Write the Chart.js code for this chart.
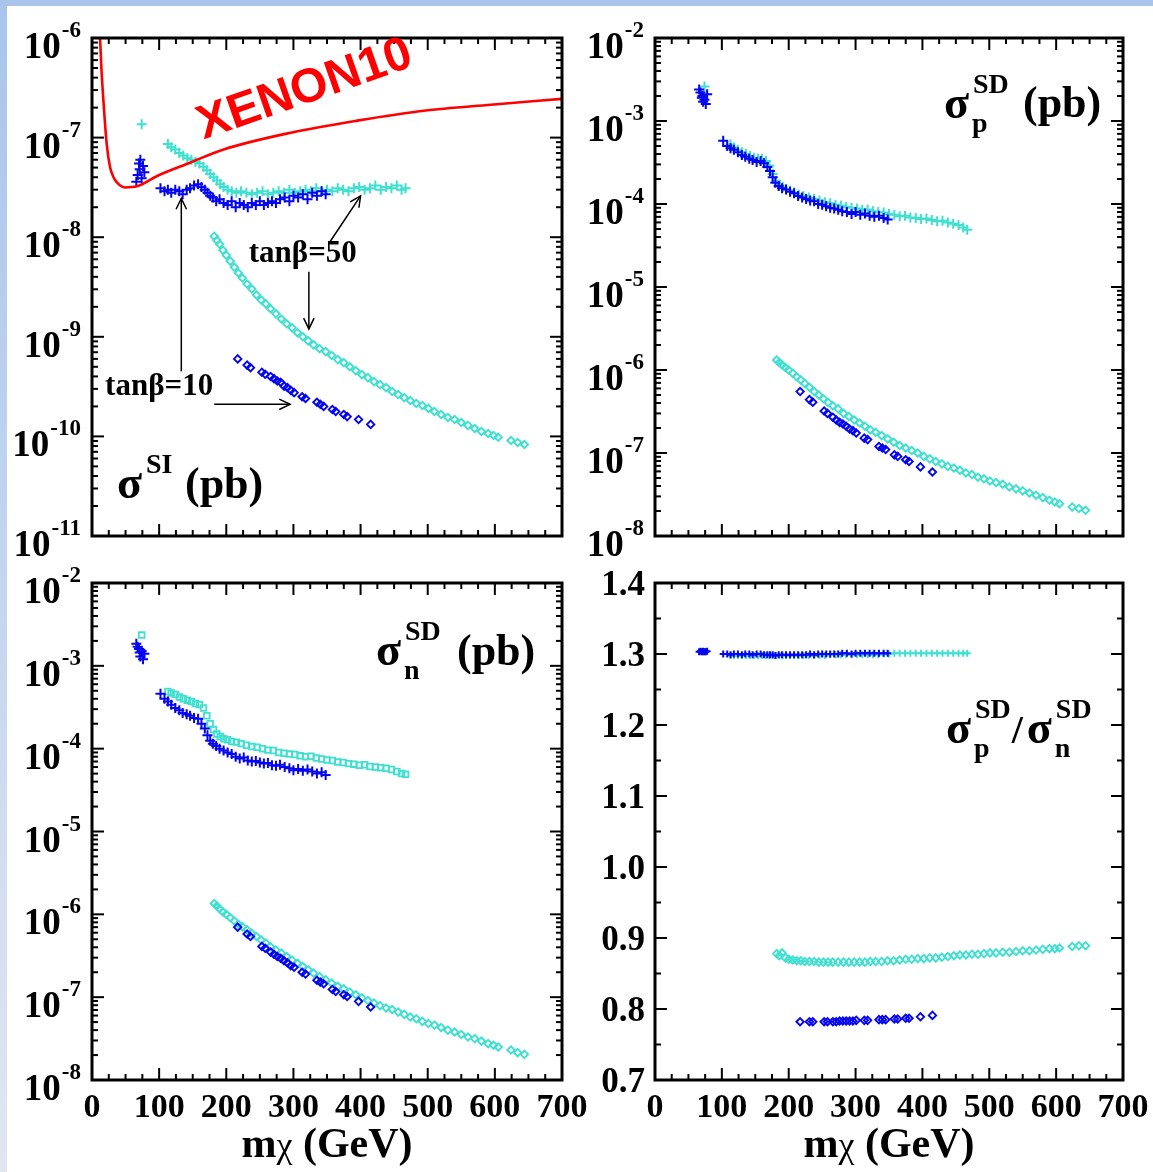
<!DOCTYPE html>
<html>
<head>
<meta charset="utf-8">
<script src="https://cdn.jsdelivr.net/npm/chart.js@4.4.1/dist/chart.umd.min.js"></script>
<style>
  body { margin: 0; background: #fff; }
  #page { position: relative; width: 1153px; height: 1172px; overflow: hidden; background: #fff; }
  #page canvas { position: absolute; left: 0; top: 0; }
  .strip-top { position: absolute; left: 0; top: 0; width: 1153px; height: 6px; background: #a9c5ec; }
  .strip-left { position: absolute; left: 0; top: 0; width: 7px; height: 1172px; background: linear-gradient(#a9c5ec, #e1e6f1); }
</style>
</head>
<body>
<div id="page">
  <div class="strip-top"></div>
  <div class="strip-left"></div>
  <canvas id="si" width="1153" height="1172"></canvas>
  <canvas id="sdp" width="1153" height="1172"></canvas>
  <canvas id="sdn" width="1153" height="1172"></canvas>
  <canvas id="ratio" width="1153" height="1172"></canvas>
</div>
<script>
// neutralino mass (GeV) of each model point, per branch
const MASS_T10_UP = [66, 68, 70, 71, 72, 74, 76, 78,
  102, 108, 113, 118, 124, 130, 135, 141, 146, 152, 158, 163, 168, 172, 176, 180, 185, 190, 196, 202,
  208, 214, 220, 226, 232, 238, 244, 250, 256, 262, 268, 274, 280, 287, 294, 300, 307, 314, 321, 328,
  335, 342, 348];
const MASS_T50_UP = [74,
  113, 118, 124, 130, 136, 142, 148, 154, 160, 166, 171, 176, 181, 186, 191, 196, 202, 208, 215, 222,
  230, 238, 246, 254, 262, 270, 278, 286, 294, 302, 310, 318, 326, 334, 342, 350, 358, 366, 374, 382,
  390, 398, 406, 414, 422, 430, 438, 446, 454, 461, 467];
const MASS_T10_LOW = [217, 231, 236, 253, 258, 266, 271, 276, 281, 286, 291, 296, 301, 313, 318, 335,
  340, 345, 358, 363, 375, 380, 397, 415];
const MASS_T50_LOW = [182, 186, 190, 195, 200, 206, 212, 218, 224, 231, 238, 245, 252, 259, 266, 274,
  282, 290, 298, 306, 314, 322, 330, 339, 348, 357, 366, 375, 384, 393, 402, 411, 420, 429, 438, 447,
  456, 465, 474, 483, 492, 501, 510, 520, 530, 540, 550, 560, 570, 580, 590, 598, 605, 624, 634, 644];

// spin-independent cross section (pb)
const SI_T10_UP = [3.6e-8, 4.2e-8, 5.5e-8, 4.8e-8, 6.0e-8, 3.9e-8, 5.2e-8, 4.5e-8,
  3.1e-8, 2.9e-8, 3.0e-8, 2.8e-8, 3.0e-8, 2.9e-8, 2.7e-8, 3.0e-8, 3.1e-8, 3.3e-8,
  3.4e-8, 3.2e-8, 3.0e-8, 2.8e-8, 2.6e-8, 2.5e-8, 2.3e-8, 2.4e-8, 2.2e-8, 2.1e-8,
  2.3e-8, 2.0e-8, 2.2e-8, 2.1e-8, 2.0e-8, 2.2e-8, 2.1e-8, 2.3e-8, 2.1e-8, 2.2e-8,
  2.3e-8, 2.2e-8, 2.4e-8, 2.5e-8, 2.3e-8, 2.6e-8, 2.5e-8, 2.7e-8, 2.4e-8, 2.8e-8,
  2.6e-8, 2.9e-8, 2.7e-8];
const SI_T50_UP = [1.36e-7,
  8.6e-8, 8.0e-8, 7.6e-8, 7.0e-8, 6.6e-8, 6.2e-8, 6.0e-8, 5.7e-8, 5.5e-8, 5.1e-8,
  4.7e-8, 4.3e-8, 4.0e-8, 3.7e-8, 3.4e-8, 3.2e-8, 3.0e-8, 2.9e-8, 2.8e-8, 2.9e-8,
  2.8e-8, 2.7e-8, 2.8e-8, 2.9e-8, 2.7e-8, 2.8e-8, 2.9e-8, 2.8e-8, 3.0e-8, 2.8e-8,
  2.9e-8, 3.0e-8, 2.9e-8, 3.1e-8, 2.9e-8, 3.0e-8, 2.9e-8, 3.1e-8, 3.0e-8, 2.9e-8,
  3.1e-8, 3.2e-8, 3.0e-8, 3.1e-8, 3.3e-8, 3.0e-8, 3.2e-8, 3.1e-8, 3.3e-8, 3.0e-8, 3.1e-8];
const SI_T10_LOW = [6.0e-10, 5.2e-10, 4.9e-10, 4.4e-10, 4.2e-10, 4.0e-10, 3.8e-10, 3.6e-10, 3.5e-10,
  3.2e-10, 3.1e-10, 2.9e-10, 2.75e-10, 2.5e-10, 2.4e-10, 2.2e-10, 2.1e-10, 2.0e-10, 1.86e-10,
  1.78e-10, 1.66e-10, 1.58e-10, 1.48e-10, 1.32e-10];
const SI_T50_LOW = [1.02e-8, 9.3e-9, 8.5e-9, 7.4e-9, 6.6e-9, 5.75e-9, 5.0e-9, 4.37e-9, 3.89e-9, 3.39e-9,
  3.02e-9, 2.63e-9, 2.34e-9, 2.14e-9, 1.91e-9, 1.70e-9, 1.51e-9, 1.35e-9, 1.23e-9, 1.10e-9,
  1.0e-9, 9.1e-10, 8.3e-10, 7.6e-10, 7.1e-10, 6.5e-10, 5.9e-10, 5.5e-10, 5.0e-10, 4.57e-10,
  4.17e-10, 3.89e-10, 3.55e-10, 3.31e-10, 3.09e-10, 2.82e-10, 2.63e-10, 2.45e-10, 2.29e-10, 2.14e-10,
  2.04e-10, 1.91e-10, 1.78e-10, 1.66e-10, 1.55e-10, 1.48e-10, 1.38e-10, 1.29e-10, 1.20e-10, 1.12e-10,
  1.07e-10, 1.02e-10, 9.8e-11, 9.1e-11, 8.7e-11, 8.3e-11];

// XENON10 upper limit on the SI cross section
const XENON10_MASS = [11, 12, 14, 17, 22, 27, 32, 37, 49, 67, 97, 146, 196, 296, 395, 494, 594, 700];
const XENON10_LIMIT = [1.6e-6, 1.0e-6, 5.0e-7, 2.34e-7, 8.5e-8, 5.0e-8, 4.0e-8, 3.55e-8, 3.16e-8,
  3.24e-8, 4.12e-8, 5.6e-8, 7.6e-8, 1.12e-7, 1.48e-7, 1.86e-7, 2.14e-7, 2.45e-7];

// spin-dependent cross section on protons (pb)
const SDP_T10_UP = [2.4e-3, 2.2e-3, 1.9e-3, 2.0e-3, 1.7e-3, 1.8e-3, 1.6e-3, 2.1e-3,
  5.8e-4, 5.0e-4, 4.7e-4, 4.5e-4, 4.2e-4, 3.9e-4, 3.7e-4, 3.5e-4, 3.4e-4, 3.2e-4,
  3.3e-4, 3.1e-4, 2.8e-4, 2.5e-4, 2.1e-4, 1.8e-4, 1.65e-4, 1.55e-4, 1.5e-4, 1.4e-4,
  1.35e-4, 1.25e-4, 1.2e-4, 1.15e-4, 1.1e-4, 1.08e-4, 1.0e-4, 9.8e-5, 9.4e-5, 9.0e-5,
  8.8e-5, 8.5e-5, 8.2e-5, 8.0e-5, 7.6e-5, 8.0e-5, 7.4e-5, 7.7e-5, 7.2e-5, 7.0e-5,
  7.2e-5, 6.8e-5, 6.5e-5];
const SDP_T50_UP = [2.6e-3,
  5.2e-4, 4.8e-4, 4.5e-4, 4.2e-4, 4.0e-4, 3.8e-4, 3.6e-4, 3.5e-4, 3.5e-4, 3.3e-4,
  2.9e-4, 2.3e-4, 1.9e-4, 1.7e-4, 1.6e-4, 1.5e-4, 1.45e-4, 1.38e-4, 1.3e-4, 1.25e-4,
  1.2e-4, 1.15e-4, 1.1e-4, 1.05e-4, 1.02e-4, 9.8e-5, 9.6e-5, 9.2e-5, 9.0e-5, 8.8e-5,
  8.5e-5, 8.6e-5, 8.2e-5, 8.0e-5, 7.9e-5, 7.6e-5, 7.4e-5, 7.1e-5, 7.2e-5, 6.9e-5,
  6.8e-5, 6.6e-5, 6.7e-5, 6.4e-5, 6.2e-5, 6.3e-5, 6.0e-5, 5.8e-5, 5.6e-5, 5.2e-5, 4.9e-5];
const SDP_T10_LOW = [5.5e-7, 4.4e-7, 4.1e-7, 3.2e-7, 3.0e-7, 2.7e-7, 2.5e-7, 2.34e-7, 2.24e-7, 2.1e-7,
  1.95e-7, 1.86e-7, 1.74e-7, 1.51e-7, 1.45e-7, 1.2e-7, 1.15e-7, 1.1e-7, 9.5e-8, 9.1e-8,
  8.3e-8, 7.9e-8, 6.8e-8, 5.9e-8];
const SDP_T50_LOW = [1.32e-6, 1.23e-6, 1.15e-6, 1.07e-6, 1.0e-6, 9.1e-7, 8.3e-7, 7.6e-7, 6.9e-7, 6.2e-7,
  5.5e-7, 5.0e-7, 4.5e-7, 4.07e-7, 3.7e-7, 3.4e-7, 3.0e-7, 2.75e-7, 2.5e-7, 2.3e-7,
  2.1e-7, 1.9e-7, 1.78e-7, 1.62e-7, 1.48e-7, 1.35e-7, 1.23e-7, 1.15e-7, 1.07e-7, 1.0e-7,
  9.1e-8, 8.5e-8, 7.9e-8, 7.4e-8, 6.9e-8, 6.6e-8, 6.2e-8, 5.75e-8, 5.5e-8, 5.1e-8,
  4.9e-8, 4.6e-8, 4.4e-8, 4.2e-8, 3.9e-8, 3.7e-8, 3.5e-8, 3.3e-8, 3.1e-8, 2.9e-8,
  2.7e-8, 2.57e-8, 2.45e-8, 2.24e-8, 2.14e-8, 2.04e-8];

// spin-dependent cross section on neutrons (pb)
const SDN_T10_UP = [1.85e-3, 1.7e-3, 1.6e-3, 1.45e-3, 1.3e-3, 1.5e-3, 1.2e-3, 1.4e-3,
  4.6e-4, 4.0e-4, 3.7e-4, 3.4e-4, 3.1e-4, 2.9e-4, 2.7e-4, 2.6e-4, 2.5e-4, 2.35e-4,
  2.3e-4, 2.0e-4, 1.75e-4, 1.45e-4, 1.25e-4, 1.15e-4, 1.08e-4, 1.0e-4, 9.5e-5, 9.0e-5,
  8.6e-5, 8.0e-5, 7.6e-5, 7.8e-5, 7.2e-5, 7.0e-5, 7.1e-5, 6.8e-5, 6.6e-5, 6.7e-5,
  6.3e-5, 6.2e-5, 6.4e-5, 6.0e-5, 5.8e-5, 5.5e-5, 5.7e-5, 5.4e-5, 5.6e-5, 5.3e-5,
  5.0e-5, 5.2e-5, 4.8e-5];
const SDN_T50_UP = [2.35e-3,
  4.9e-4, 4.7e-4, 4.5e-4, 4.2e-4, 4.0e-4, 3.85e-4, 3.7e-4, 3.5e-4, 3.4e-4, 3.1e-4,
  2.5e-4, 2.0e-4, 1.7e-4, 1.5e-4, 1.4e-4, 1.32e-4, 1.28e-4, 1.22e-4, 1.2e-4, 1.15e-4,
  1.1e-4, 1.06e-4, 1.04e-4, 1.0e-4, 9.6e-5, 9.5e-5, 9.0e-5, 8.8e-5, 8.6e-5, 8.5e-5,
  8.2e-5, 8.0e-5, 8.1e-5, 7.7e-5, 7.5e-5, 7.3e-5, 7.2e-5, 6.9e-5, 6.8e-5, 6.6e-5,
  6.5e-5, 6.3e-5, 6.4e-5, 6.1e-5, 6.0e-5, 5.9e-5, 5.8e-5, 5.6e-5, 5.3e-5, 5.0e-5, 4.9e-5];
const SDN_T10_LOW = [7.0e-7, 5.8e-7, 5.4e-7, 4.1e-7, 3.9e-7, 3.5e-7, 3.3e-7, 3.1e-7, 2.95e-7, 2.75e-7,
  2.6e-7, 2.4e-7, 2.3e-7, 2.0e-7, 1.9e-7, 1.6e-7, 1.52e-7, 1.45e-7, 1.24e-7, 1.17e-7,
  1.07e-7, 1.02e-7, 8.9e-8, 7.6e-8];
const SDN_T50_LOW = [1.35e-6, 1.26e-6, 1.17e-6, 1.07e-6, 1.0e-6, 9.1e-7, 8.3e-7, 7.6e-7, 7.1e-7, 6.5e-7,
  5.9e-7, 5.4e-7, 4.9e-7, 4.5e-7, 4.07e-7, 3.7e-7, 3.4e-7, 3.1e-7, 2.8e-7, 2.57e-7,
  2.34e-7, 2.14e-7, 1.95e-7, 1.78e-7, 1.62e-7, 1.48e-7, 1.35e-7, 1.26e-7, 1.15e-7, 1.07e-7,
  9.8e-8, 9.1e-8, 8.5e-8, 7.9e-8, 7.4e-8, 7.1e-8, 6.6e-8, 6.2e-8, 5.75e-8, 5.5e-8,
  5.1e-8, 4.8e-8, 4.6e-8, 4.3e-8, 4.0e-8, 3.8e-8, 3.55e-8, 3.3e-8, 3.16e-8, 2.95e-8,
  2.75e-8, 2.63e-8, 2.5e-8, 2.3e-8, 2.14e-8, 2.04e-8];

// proton / neutron SD ratio
const RATIO_T10_UP = [1.303, 1.304, 1.303, 1.303, 1.304, 1.303, 1.303, 1.304,
  1.300, 1.300, 1.299, 1.300, 1.300, 1.299, 1.300, 1.300, 1.299, 1.300,
  1.300, 1.299, 1.299, 1.299, 1.299, 1.298, 1.299, 1.299, 1.299, 1.299,
  1.299, 1.299, 1.299, 1.299, 1.300, 1.299, 1.300, 1.300, 1.300, 1.300,
  1.300, 1.300, 1.301, 1.301, 1.300, 1.301, 1.301, 1.301, 1.301, 1.301,
  1.301, 1.301, 1.301];
const RATIO_T50_UP = [1.303,
  1.298, 1.298, 1.298, 1.298, 1.298, 1.298, 1.298, 1.298, 1.298, 1.298,
  1.298, 1.298, 1.298, 1.298, 1.298, 1.298, 1.298, 1.298, 1.298, 1.298,
  1.298, 1.298, 1.298, 1.298, 1.299, 1.299, 1.299, 1.299, 1.299, 1.299,
  1.299, 1.299, 1.299, 1.299, 1.300, 1.300, 1.301, 1.301, 1.301, 1.301,
  1.301, 1.301, 1.301, 1.301, 1.301, 1.301, 1.301, 1.301, 1.301, 1.301, 1.301];
const RATIO_T10_LOW = [0.782, 0.782, 0.782, 0.782, 0.782, 0.782, 0.782, 0.783, 0.783, 0.783,
  0.783, 0.783, 0.784, 0.784, 0.784, 0.785, 0.785, 0.785, 0.786, 0.786,
  0.787, 0.787, 0.789, 0.791];
const RATIO_T50_LOW = [0.878, 0.875, 0.879, 0.872, 0.870, 0.869, 0.868, 0.868, 0.867, 0.867,
  0.867, 0.866, 0.866, 0.866, 0.866, 0.866, 0.866, 0.866, 0.866, 0.866,
  0.866, 0.867, 0.867, 0.867, 0.868, 0.868, 0.869, 0.870, 0.870, 0.871,
  0.871, 0.872, 0.872, 0.873, 0.874, 0.875, 0.876, 0.876, 0.877, 0.877,
  0.878, 0.879, 0.879, 0.880, 0.880, 0.881, 0.882, 0.882, 0.883, 0.884,
  0.885, 0.885, 0.886, 0.888, 0.889, 0.889];

const PAGE_W = 1153, PAGE_H = 1172;
const BLUE = '#0505ee';
const CYAN = '#40e0d0';
const SERIF = '"Liberation Serif", "Times New Roman", serif';
const SANS = '"Liberation Sans", Arial, sans-serif';

function pts(masses, values) {
  return masses.map((m, i) => ({ x: m, y: values[i] }));
}

function crosses(masses, values, color, order, radius = 5) {
  return {
    data: pts(masses, values), order,
    pointStyle: 'cross', pointRadius: radius, pointBorderWidth: 2,
    pointBorderColor: color, pointBackgroundColor: color, showLine: false
  };
}

function squares(masses, values, color, order) {
  return {
    data: pts(masses, values), order,
    pointStyle: 'rect', pointRadius: 4, pointBorderWidth: 1.8,
    pointBorderColor: color, pointBackgroundColor: 'rgba(0,0,0,0)', showLine: false
  };
}

function diamonds(masses, values, color, order) {
  return {
    data: pts(masses, values), order,
    pointStyle: 'rectRot', pointRadius: 3.7, pointBorderWidth: 1.9,
    pointBorderColor: color, pointBackgroundColor: 'rgba(0,0,0,0)', showLine: false
  };
}

function seg(ctx, x1, y1, x2, y2) {
  ctx.beginPath();
  ctx.moveTo(x1, y1);
  ctx.lineTo(x2, y2);
  ctx.stroke();
}

function arrow(ctx, x1, y1, x2, y2) {
  seg(ctx, x1, y1, x2, y2);
  const a = Math.atan2(y2 - y1, x2 - x1), h = 12, s = 0.45;
  ctx.beginPath();
  ctx.moveTo(x2 - h * Math.cos(a - s), y2 - h * Math.sin(a - s));
  ctx.lineTo(x2, y2);
  ctx.lineTo(x2 - h * Math.cos(a + s), y2 - h * Math.sin(a + s));
  ctx.stroke();
}

// "10" with a raised exponent, right aligned
function drawPow(ctx, e, right, py) {
  ctx.textAlign = 'right';
  ctx.textBaseline = 'alphabetic';
  const exp = '-' + Math.abs(e);
  ctx.font = 'bold 23px ' + SERIF;
  ctx.fillText(exp, right, py - 1);
  const w = ctx.measureText(exp).width;
  ctx.font = 'bold 37px ' + SERIF;
  ctx.fillText('10', right - w - 1, py + 20);
}

// sigma with superscript and optional subscript, returns right edge
function drawSigma(ctx, left, base, sup, sub) {
  ctx.textAlign = 'left';
  ctx.textBaseline = 'alphabetic';
  ctx.font = 'bold 46px ' + SERIF;
  ctx.fillText('σ', left, base);
  const w = ctx.measureText('σ').width;
  ctx.font = 'bold 28px ' + SERIF;
  ctx.fillText(sup, left + w + 4, base - 25);
  if (sub) ctx.fillText(sub, left + w + 3, base + 14);
  return left + w + 4 + ctx.measureText(sup).width;
}

function drawPb(ctx, left, base) {
  ctx.textAlign = 'left';
  ctx.font = 'bold 44px ' + SERIF;
  ctx.fillText('(pb)', left, base);
}

function drawTitle(ctx, cx, base) {
  const parts = [['m', 'bold 42px ' + SERIF], ['χ', '36px ' + SERIF], [' (GeV)', 'bold 42px ' + SERIF]];
  let total = 0;
  parts.forEach(([t, f]) => { ctx.font = f; total += ctx.measureText(t).width; });
  let x = cx - total / 2;
  ctx.textAlign = 'left';
  parts.forEach(([t, f]) => {
    ctx.font = f;
    ctx.fillText(t, x, base);
    x += ctx.measureText(t).width;
  });
}

// frame, inward ticks on all four sides, tick labels and panel text
function frame(o) {
  return {
    id: 'frame',
    afterDraw(chart) {
      const { ctx, chartArea: a } = chart;
      const x = chart.scales.x, y = chart.scales.y;
      ctx.save();
      ctx.strokeStyle = '#000';
      ctx.fillStyle = '#000';
      ctx.lineWidth = 2;
      for (let v = 0; v <= 700; v += 25) {
        const px = x.getPixelForValue(v);
        const len = v % 100 === 0 ? 12 : 6;
        seg(ctx, px, a.bottom, px, a.bottom - len);
        seg(ctx, px, a.top, px, a.top + len);
      }
      const yTicks = [];
      if (o.log) {
        for (let e = o.expMin; e <= o.expMax; e++) {
          yTicks.push([Math.pow(10, e), true]);
          if (e < o.expMax) for (let k = 2; k < 10; k++) yTicks.push([k * Math.pow(10, e), false]);
        }
      } else {
        for (let i = 14; i <= 28; i++) yTicks.push([i / 20, i % 2 === 0]);
      }
      yTicks.forEach(([v, major]) => {
        const py = y.getPixelForValue(v);
        const len = major ? 12 : 6;
        seg(ctx, a.left, py, a.left + len, py);
        seg(ctx, a.right, py, a.right - len, py);
      });
      ctx.lineWidth = 3;
      ctx.strokeRect(a.left, a.top, a.right - a.left, a.bottom - a.top);

      if (o.log) {
        for (let e = o.expMin; e <= o.expMax; e++) drawPow(ctx, e, a.left - 11, y.getPixelForValue(Math.pow(10, e)));
      } else {
        ctx.font = 'bold 35px ' + SERIF;
        ctx.textAlign = 'right';
        ctx.textBaseline = 'alphabetic';
        for (let i = 7; i <= 14; i++) ctx.fillText((i / 10).toFixed(1), a.left - 10, y.getPixelForValue(i / 10) + 12);
      }
      if (o.xLabels) {
        ctx.font = 'bold 34px ' + SERIF;
        ctx.textAlign = 'center';
        ctx.textBaseline = 'alphabetic';
        for (let v = 0; v <= 700; v += 100) ctx.fillText(String(v), x.getPixelForValue(v), a.bottom + 37);
        drawTitle(ctx, (a.left + a.right) / 2, a.bottom + 77);
      }
      if (o.annotate) o.annotate(ctx, x, y, a);
      ctx.restore();
    }
  };
}

function makePanel(id, box, yScale, datasets, o) {
  return new Chart(document.getElementById(id), {
    type: 'scatter',
    data: { datasets },
    options: {
      responsive: false,
      animation: false,
      events: [],
      layout: { padding: { left: box[0], top: box[1], right: PAGE_W - box[2], bottom: PAGE_H - box[3] } },
      scales: {
        x: { type: 'linear', min: 0, max: 700, display: false },
        y: Object.assign({ display: false }, yScale)
      },
      plugins: { legend: { display: false }, tooltip: { enabled: false } }
    },
    plugins: [frame(o)]
  });
}

// spin-independent panel with the XENON10 limit
makePanel('si', [92, 38, 562, 536], { type: 'logarithmic', min: 1e-11, max: 1e-6 }, [
  {
    type: 'line', data: pts(XENON10_MASS, XENON10_LIMIT), order: 0,
    borderColor: '#ff0000', borderWidth: 2.6, pointRadius: 0, fill: false,
    cubicInterpolationMode: 'monotone', clip: 0
  },
  crosses(MASS_T10_UP, SI_T10_UP, BLUE, 1),
  diamonds(MASS_T10_LOW, SI_T10_LOW, BLUE, 1),
  crosses(MASS_T50_UP, SI_T50_UP, CYAN, 2),
  diamonds(MASS_T50_LOW, SI_T50_LOW, CYAN, 2)
], {
  log: true, expMin: -11, expMax: -6,
  annotate(ctx, x, y) {
    ctx.save();
    ctx.translate(x.getPixelForValue(317), y.getPixelForValue(3.0e-7));
    ctx.rotate(-0.337);
    ctx.fillStyle = '#ff0000';
    ctx.font = 'bold 48px ' + SANS;
    ctx.textAlign = 'center';
    ctx.textBaseline = 'middle';
    ctx.fillText('XENON10', 0, 0);
    ctx.restore();

    ctx.font = 'bold 31px ' + SERIF;
    ctx.textAlign = 'center';
    ctx.textBaseline = 'middle';
    ctx.fillText('tanβ=50', x.getPixelForValue(314), y.getPixelForValue(6.8e-9));
    ctx.fillText('tanβ=10', x.getPixelForValue(100), y.getPixelForValue(3.1e-10));

    ctx.lineWidth = 1.5;
    [[353, 8.7e-9, 400, 2.6e-8], [323, 4.5e-9, 323, 1.2e-9],
     [133, 4.5e-10, 133, 2.45e-8], [182, 2.1e-10, 295, 2.1e-10]].forEach(([m1, s1, m2, s2]) => {
      arrow(ctx, x.getPixelForValue(m1), y.getPixelForValue(s1), x.getPixelForValue(m2), y.getPixelForValue(s2));
    });

    drawSigma(ctx, 117, 498, 'SI');
    drawPb(ctx, 185, 498);
  }
});

// spin-dependent, proton
makePanel('sdp', [655, 38, 1123, 536], { type: 'logarithmic', min: 1e-8, max: 1e-2 }, [
  crosses(MASS_T10_UP, SDP_T10_UP, BLUE, 1),
  diamonds(MASS_T10_LOW, SDP_T10_LOW, BLUE, 1),
  crosses(MASS_T50_UP, SDP_T50_UP, CYAN, 2),
  diamonds(MASS_T50_LOW, SDP_T50_LOW, CYAN, 2)
], {
  log: true, expMin: -8, expMax: -2,
  annotate(ctx) {
    drawSigma(ctx, 944, 118, 'SD', 'p');
    drawPb(ctx, 1023, 117);
  }
});

// spin-dependent, neutron
makePanel('sdn', [92, 583, 562, 1080], { type: 'logarithmic', min: 1e-8, max: 1e-2 }, [
  crosses(MASS_T10_UP, SDN_T10_UP, BLUE, 1),
  diamonds(MASS_T10_LOW, SDN_T10_LOW, BLUE, 1),
  squares(MASS_T50_UP, SDN_T50_UP, CYAN, 2),
  diamonds(MASS_T50_LOW, SDN_T50_LOW, CYAN, 2)
], {
  log: true, expMin: -8, expMax: -2, xLabels: true,
  annotate(ctx) {
    drawSigma(ctx, 376, 665, 'SD', 'n');
    drawPb(ctx, 457, 665);
  }
});

// proton / neutron ratio
makePanel('ratio', [655, 583, 1123, 1080], { type: 'linear', min: 0.7, max: 1.4 }, [
  crosses(MASS_T10_UP, RATIO_T10_UP, BLUE, 1, 3.5),
  diamonds(MASS_T10_LOW, RATIO_T10_LOW, BLUE, 1),
  crosses(MASS_T50_UP, RATIO_T50_UP, CYAN, 2, 3.5),
  diamonds(MASS_T50_LOW, RATIO_T50_LOW, CYAN, 2)
], {
  log: false, xLabels: true,
  annotate(ctx) {
    const r = drawSigma(ctx, 946, 743, 'SD', 'p');
    ctx.font = 'bold 40px ' + SERIF;
    ctx.fillText('/', r + 1, 743);
    drawSigma(ctx, r + 16, 743, 'SD', 'n');
  }
});
</script>
</body>
</html>
